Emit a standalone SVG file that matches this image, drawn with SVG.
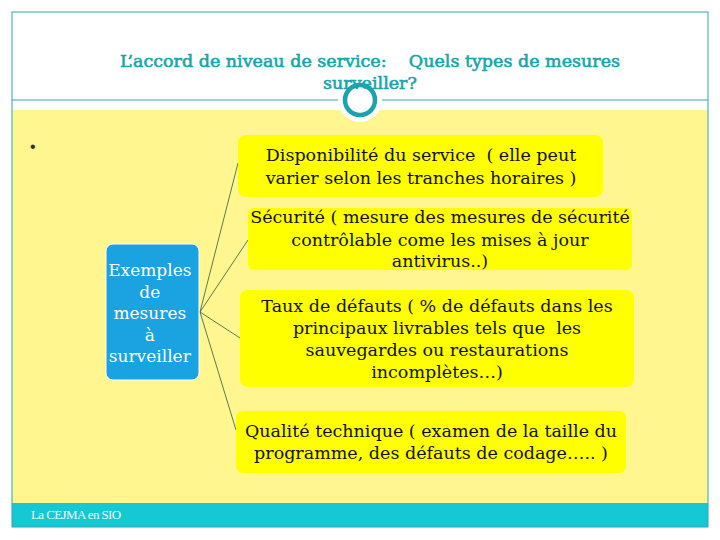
<svg xmlns="http://www.w3.org/2000/svg" width="720" height="540" viewBox="0 0 720 540">
<style>
.box{fill:#FFFF00;}
.bt{font-family:"DejaVu Serif","Liberation Serif",serif;font-size:17.5px;fill:#111;text-anchor:middle;white-space:pre;}
.title{font-family:"DejaVu Serif","Liberation Serif",serif;font-size:17.5px;fill:#1AA3AA;stroke:#1AA3AA;stroke-width:0.6;text-anchor:middle;white-space:pre;}
.conn{stroke:#2E5E3E;stroke-width:0.8;fill:none;}
</style>
<rect width="720" height="540" fill="#FFFFFF"/>
<rect x="12" y="110" width="696" height="393" fill="#FFF68F"/>
<rect x="12" y="503" width="696" height="24" fill="#14C8D4"/>
<rect x="12" y="12" width="696" height="515" fill="none" stroke="#2AA8AE" stroke-width="1"/>
<line x1="12" y1="100" x2="708" y2="100" stroke="#2AA8AE" stroke-width="1"/>
<circle cx="360" cy="100" r="22" fill="#FFFFFF"/>
<circle cx="360" cy="100" r="15" fill="none" stroke="#1AA3AA" stroke-width="4.5"/>
<text class="title" x="370" y="67" xml:space="preserve">L’accord de niveau de service:    Quels types de mesures</text>
<text class="title" x="370" y="89">surveiller?</text>
<text x="30" y="152" font-family="Liberation Sans,sans-serif" font-size="16" fill="#333">•</text>
<g id="connectors">
<line class="conn" x1="200" y1="312" x2="238" y2="163"/>
<line class="conn" x1="200" y1="312" x2="248" y2="240"/>
<line class="conn" x1="200" y1="312" x2="240" y2="338"/>
<line class="conn" x1="200" y1="312" x2="236" y2="430"/>
</g>
<g id="center">
<rect x="106" y="244" width="93" height="136" rx="7" fill="#1AA3E0" stroke="#FFFFFF" stroke-width="1"/>
<text class="bt" style="fill:#FFFFFF;font-size:17px">
<tspan x="152.5" y="276">Exemples</tspan>
<tspan x="152.5" y="298">de</tspan>
<tspan x="152.5" y="319">mesures</tspan>
<tspan x="152.5" y="341">à</tspan>
<tspan x="152.5" y="362">surveiller</tspan>
</text>
</g>
<g id="n1">
<rect class="box" x="238" y="135" width="365" height="62" rx="8"/>
<text class="bt" xml:space="preserve"><tspan x="421" y="161">Disponibilité du service  ( elle peut</tspan><tspan x="421" y="184">varier selon les tranches horaires )</tspan></text>
</g>
<g id="n2">
<rect class="box" x="248" y="208" width="384" height="62" rx="6"/>
<text class="bt"><tspan x="440" y="223">Sécurité ( mesure des mesures de sécurité</tspan><tspan x="440" y="246">contrôlable come les mises à jour</tspan><tspan x="440" y="267">antivirus..)</tspan></text>
</g>
<g id="n3">
<rect class="box" x="240" y="290" width="394" height="97" rx="8"/>
<text class="bt" xml:space="preserve"><tspan x="437" y="312">Taux de défauts ( % de défauts dans les</tspan><tspan x="437" y="334">principaux livrables tels que  les</tspan><tspan x="437" y="356">sauvegardes ou restaurations</tspan><tspan x="437" y="378">incomplètes…)</tspan></text>
</g>
<g id="n4">
<rect class="box" x="236" y="411" width="390" height="62" rx="7"/>
<text class="bt"><tspan x="431" y="437">Qualité technique ( examen de la taille du</tspan><tspan x="431" y="459">programme, des défauts de codage….. )</tspan></text>
</g>
<text x="31" y="519" font-family="Liberation Serif,serif" font-size="13" fill="#EFFFFF" letter-spacing="-0.6">La CEJMA en SIO</text>
</svg>
